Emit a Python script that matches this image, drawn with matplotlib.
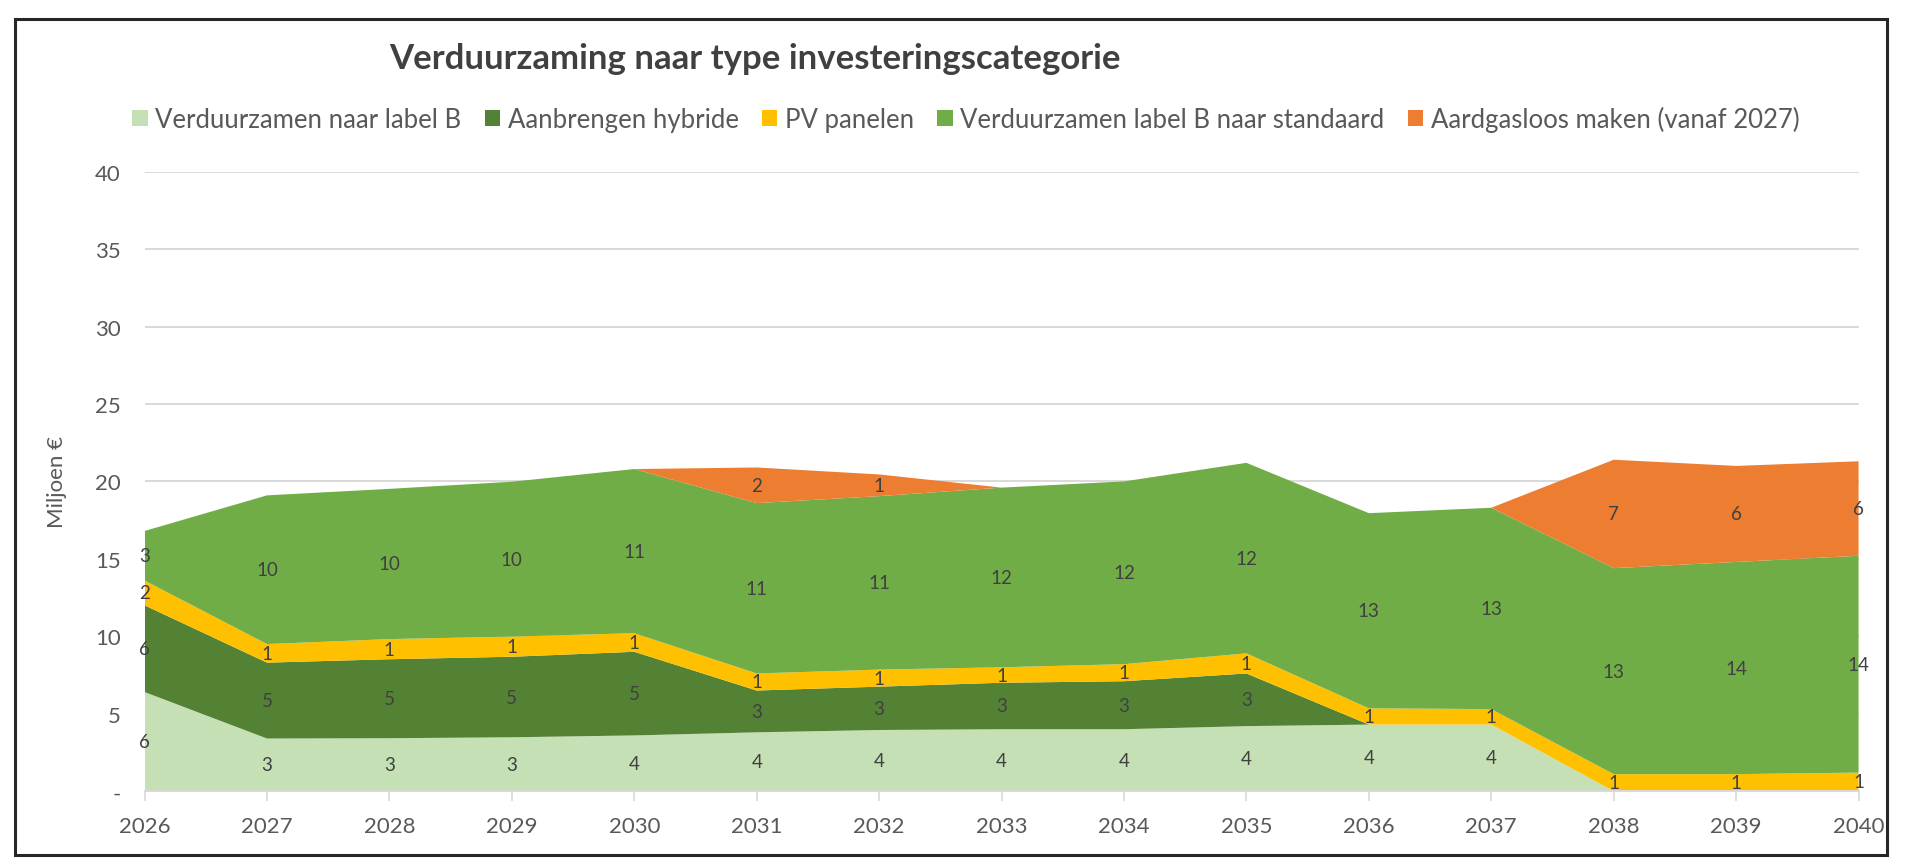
import matplotlib

matplotlib.use("Agg")
import matplotlib.pyplot as plt
import numpy as np
from matplotlib.patches import Patch, Rectangle

plt.rcParams["font.family"] = ["Lato", "DejaVu Sans"]

years = list(range(2026, 2041))

series_names = [
    "Verduurzamen naar label B",
    "Aanbrengen hybride",
    "PV panelen",
    "Verduurzamen label B naar standaard",
    "Aardgasloos maken (vanaf 2027)",
]

label_b = [6.4, 3.4, 3.42, 3.48, 3.6, 3.8, 3.95, 4.0, 4.0, 4.2, 4.3, 4.3, 0.0, 0.0, 0.0]
hybride = [5.6, 4.9, 5.1, 5.2, 5.4, 2.7, 2.8, 3.0, 3.1, 3.4, 0.0, 0.0, 0.0, 0.0, 0.0]
pv_panelen = [1.6, 1.2, 1.3, 1.3, 1.2, 1.1, 1.1, 1.0, 1.1, 1.3, 1.05, 1.0, 1.1, 1.1, 1.2]
standaard = [3.2, 9.6, 9.7, 10.0, 10.6, 11.0, 11.2, 11.6, 11.8, 12.3, 12.6, 13.0, 13.3, 13.7, 14.0]
aardgasloos = [0.0, 0.0, 0.0, 0.0, 0.0, 2.3, 1.4, 0.0, 0.0, 0.0, 0.0, 0.0, 7.0, 6.2, 6.1]

colors = ["#C5E0B4", "#548235", "#FFC000", "#70AD47", "#ED7D31"]

y_ticks = [0, 5, 10, 15, 20, 25, 30, 35, 40]
y_tick_labels = ["-", "5", "10", "15", "20", "25", "30", "35", "40"]

fig = plt.figure(figsize=(19.2, 8.62), dpi=100)
ax = fig.add_axes([0.0753, 0.081, 0.8927, 0.7187])

layers = np.array([label_b, hybride, pv_panelen, standaard, aardgasloos])
ax.stackplot(years, layers, colors=colors, linewidth=0)

# data labels in the middle of each band
bottom = np.zeros(len(years))
for vals in layers:
    for x, b, v in zip(years, bottom, vals):
        if v > 0:
            ax.text(x, b + v / 2, f"{v:.0f}", ha="center", va="center",
                    fontsize=13.5, color="#404040")
    bottom = bottom + vals

ax.set_xlim(2026, 2040)
ax.set_ylim(0, 40)
ax.set_xticks(years)
ax.set_xticklabels([str(y) for y in years])
ax.set_yticks(y_ticks)
ax.set_yticklabels(y_tick_labels)
ax.grid(axis="y", color="#D9D9D9", linewidth=1.4)
ax.set_axisbelow(True)
for side in ["top", "right", "left"]:
    ax.spines[side].set_visible(False)
ax.spines["bottom"].set_color("#D9D9D9")
ax.spines["bottom"].set_linewidth(1.4)
ax.spines["bottom"].set_zorder(5)
ax.tick_params(axis="y", length=0, pad=17, labelsize=16, labelcolor="#595959")
ax.tick_params(axis="x", length=7, width=1.2, color="#D9D9D9", pad=11,
               labelsize=16, labelcolor="#595959")
ax.set_ylabel("Miljoen €", fontsize=16, color="#595959", labelpad=20)

fig.text(0.393, 0.932, "Verduurzaming naar type investeringscategorie",
         ha="center", va="center", fontsize=25, fontweight="bold", color="#404040")

handles = [Patch(facecolor=c, edgecolor="none") for c in colors]
fig.legend(handles, series_names, loc="center", bbox_to_anchor=(0.503, 0.861),
           ncol=5, frameon=False, fontsize=18.5, labelcolor="#595959",
           handlelength=0.6, handleheight=0.6, handletextpad=0.3, columnspacing=0.9)

fig.patches.append(Rectangle((0.0078, 0.007), 0.975, 0.97, transform=fig.transFigure,
                             fill=False, edgecolor="#262626", linewidth=2.2))

fig.savefig("out.png", dpi=100)
plt.close(fig)
